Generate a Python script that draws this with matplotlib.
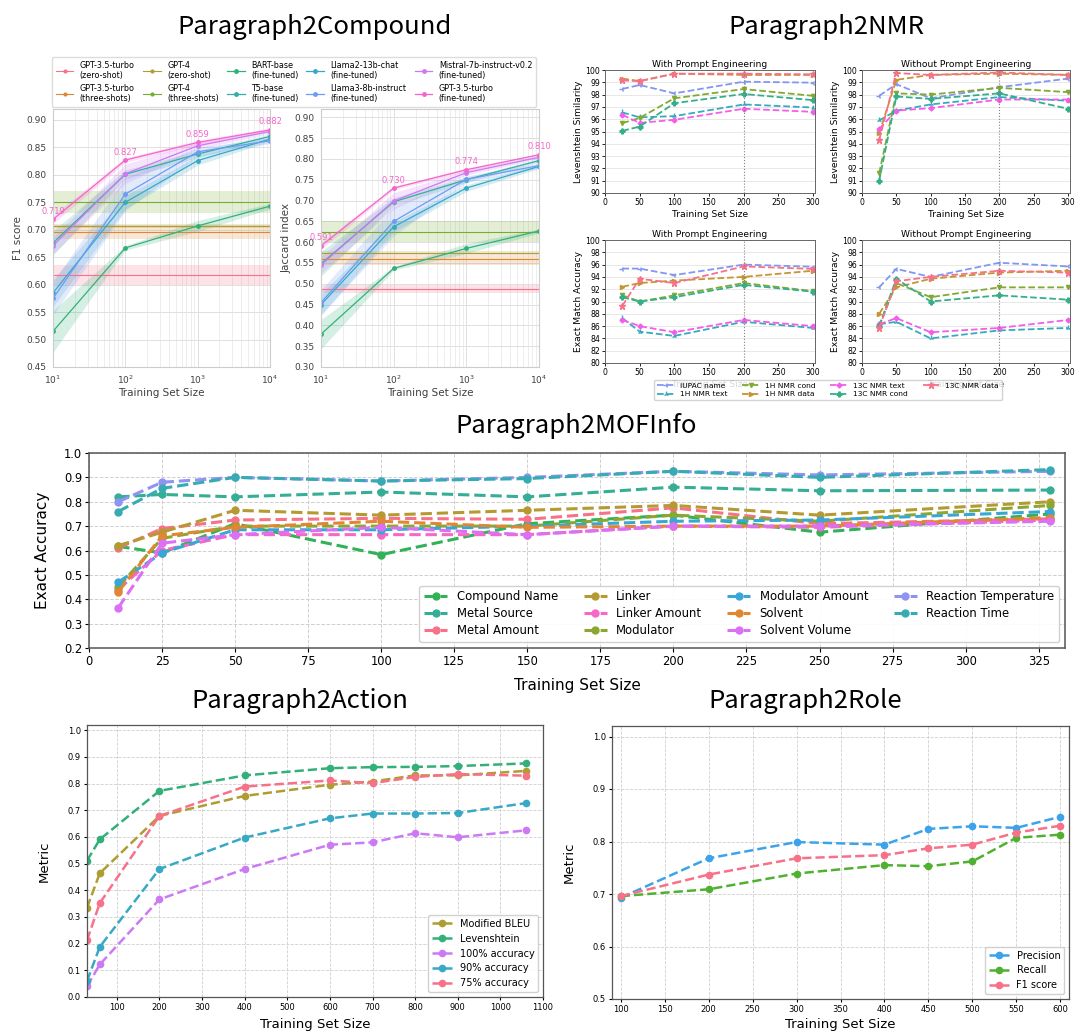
import numpy as np
import matplotlib
matplotlib.use("Agg")
import matplotlib.pyplot as plt
import seaborn as sns

W, H = 1075, 1034

# ---------------- Paragraph2Compound ----------------
cmp_sizes = [10, 100, 1000, 10000]
cmp_labels = ["GPT-3.5-turbo\n(zero-shot)", "GPT-3.5-turbo\n(three-shots)",
              "GPT-4\n(zero-shot)", "GPT-4\n(three-shots)",
              "BART-base\n(fine-tuned)", "T5-base\n(fine-tuned)",
              "Llama2-13b-chat\n(fine-tuned)", "Llama3-8b-instruct\n(fine-tuned)",
              "Mistral-7b-instruct-v0.2\n(fine-tuned)", "GPT-3.5-turbo\n(fine-tuned)"]
# prompt-only baselines (no training): mean, std
f1_base_mean = [0.617, 0.696, 0.707, 0.750]
f1_base_std = [0.018, 0.013, 0.004, 0.020]
jac_base_mean = [0.488, 0.560, 0.575, 0.625]
jac_base_std = [0.010, 0.015, 0.004, 0.025]
# fine-tuned models
f1_ft = [[0.515, 0.667, 0.707, 0.743],
         [0.676, 0.801, 0.838, 0.870],
         [0.585, 0.750, 0.826, 0.865],
         [0.575, 0.765, 0.842, 0.862],
         [0.671, 0.802, 0.853, 0.879],
         [0.719, 0.827, 0.859, 0.882]]
f1_ft_std = [[0.038, 0.004, 0.010, 0.005],
             [0.022, 0.008, 0.006, 0.004],
             [0.025, 0.012, 0.008, 0.004],
             [0.030, 0.030, 0.008, 0.005],
             [0.015, 0.018, 0.006, 0.004],
             [0.008, 0.004, 0.004, 0.003]]
jac_ft = [[0.379, 0.537, 0.585, 0.627],
          [0.548, 0.697, 0.750, 0.796],
          [0.450, 0.637, 0.730, 0.782],
          [0.455, 0.650, 0.751, 0.784],
          [0.545, 0.699, 0.767, 0.804],
          [0.591, 0.730, 0.774, 0.810]]
jac_ft_std = [[0.035, 0.004, 0.012, 0.005],
              [0.030, 0.010, 0.006, 0.004],
              [0.025, 0.012, 0.008, 0.005],
              [0.030, 0.035, 0.008, 0.006],
              [0.020, 0.020, 0.006, 0.004],
              [0.008, 0.004, 0.004, 0.003]]

# ---------------- Paragraph2NMR ----------------
nmr_sizes = [25, 50, 100, 200, 300]
nmr_names = ["IUPAC name", "1H NMR text", "1H NMR cond", "1H NMR data",
             "13C NMR text", "13C NMR cond", "13C NMR data"]
lev_with = [[98.46, 98.78, 98.10, 99.05, 98.97],
            [96.55, 96.15, 96.25, 97.20, 96.95],
            [95.68, 96.10, 97.70, 98.45, 97.90],
            [99.30, 99.10, 99.70, 99.60, 99.60],
            [96.35, 95.70, 95.95, 96.85, 96.60],
            [95.05, 95.40, 97.30, 98.05, 97.55],
            [99.15, 99.10, 99.70, 99.70, 99.65]]
lev_without = [[97.90, 98.85, 97.70, 98.60, 99.30],
               [95.90, 96.70, 97.20, 97.80, 97.50],
               [91.60, 98.10, 98.00, 98.55, 98.20],
               [94.85, 99.20, 99.60, 99.70, 99.60],
               [95.20, 96.70, 96.90, 97.60, 97.60],
               [91.00, 97.85, 97.65, 98.10, 96.85],
               [94.30, 99.75, 99.60, 99.80, 99.60]]
em_with = [[95.35, 95.35, 94.30, 96.00, 95.65],
           [87.30, 85.10, 84.40, 86.70, 85.70],
           [91.00, 90.00, 91.00, 93.00, 91.70],
           [92.40, 93.00, 93.40, 94.00, 95.00],
           [87.00, 86.00, 85.00, 87.00, 86.00],
           [90.70, 90.00, 90.70, 92.70, 91.60],
           [89.30, 93.70, 93.00, 95.70, 95.30]]
em_without = [[92.30, 95.30, 94.00, 96.30, 95.70],
              [86.30, 86.70, 84.00, 85.30, 85.70],
              [86.00, 93.00, 90.70, 92.30, 92.30],
              [88.00, 92.30, 93.70, 94.70, 95.00],
              [86.30, 87.30, 85.00, 85.70, 87.00],
              [86.00, 93.70, 90.00, 91.00, 90.30],
              [85.70, 93.30, 94.00, 95.00, 94.70]]

# ---------------- Paragraph2MOFInfo ----------------
mof_sizes = [10, 25, 50, 100, 150, 200, 250, 329]
mof_names = ["Compound Name", "Metal Source", "Metal Amount", "Linker", "Linker Amount",
             "Modulator", "Modulator Amount", "Solvent", "Solvent Volume",
             "Reaction Temperature", "Reaction Time"]
mof_acc = [[0.617, 0.590, 0.710, 0.583, 0.710, 0.745, 0.675, 0.750],
           [0.820, 0.830, 0.820, 0.840, 0.820, 0.860, 0.845, 0.848],
           [0.610, 0.690, 0.725, 0.732, 0.728, 0.775, 0.710, 0.730],
           [0.620, 0.675, 0.765, 0.745, 0.765, 0.785, 0.745, 0.800],
           [0.440, 0.600, 0.665, 0.665, 0.665, 0.700, 0.695, 0.725],
           [0.450, 0.650, 0.700, 0.700, 0.700, 0.745, 0.720, 0.785],
           [0.470, 0.590, 0.685, 0.685, 0.700, 0.720, 0.725, 0.760],
           [0.430, 0.660, 0.695, 0.720, 0.695, 0.700, 0.700, 0.735],
           [0.365, 0.630, 0.665, 0.695, 0.665, 0.700, 0.700, 0.720],
           [0.800, 0.880, 0.900, 0.885, 0.900, 0.925, 0.910, 0.925],
           [0.760, 0.855, 0.900, 0.885, 0.895, 0.925, 0.900, 0.932]]
mof_color_idx = [4, 5, 0, 2, 10, 3, 7, 1, 9, 8, 6]

# ---------------- Paragraph2Action ----------------
act_sizes = [30, 60, 200, 400, 600, 700, 800, 900, 1060]
act_names = ["Modified BLEU", "Levenshtein", "100% accuracy", "90% accuracy", "75% accuracy"]
act_vals = [[0.335, 0.464, 0.679, 0.754, 0.796, 0.808, 0.831, 0.831, 0.848],
            [0.511, 0.591, 0.773, 0.831, 0.858, 0.862, 0.863, 0.866, 0.876],
            [0.040, 0.122, 0.366, 0.480, 0.571, 0.580, 0.614, 0.599, 0.625],
            [0.060, 0.188, 0.480, 0.598, 0.670, 0.688, 0.688, 0.690, 0.727],
            [0.213, 0.352, 0.679, 0.789, 0.812, 0.802, 0.825, 0.836, 0.830]]
act_color_idx = [1, 2, 4, 3, 0]

# ---------------- Paragraph2Role ----------------
role_sizes = [100, 200, 300, 400, 450, 500, 550, 600]
role_names = ["Precision", "Recall", "F1 score"]
role_vals = [[0.693, 0.768, 0.799, 0.794, 0.824, 0.829, 0.826, 0.847],
             [0.696, 0.709, 0.739, 0.755, 0.753, 0.762, 0.807, 0.813],
             [0.696, 0.737, 0.768, 0.774, 0.787, 0.794, 0.817, 0.830]]
role_color_idx = [2, 1, 0]


def rect(l, t, r, b):
    return [l / W, 1 - b / H, (r - l) / W, (b - t) / H]


fig = plt.figure(figsize=(W / 100, H / 100), dpi=100)
title_font = dict(fontsize=18.5, family=["Noto Sans CJK SC", "DejaVu Sans"], ha="center", va="center")
fig.text(315 / W, 1 - 27 / H, "Paragraph2Compound", **title_font)
fig.text(826 / W, 1 - 27 / H, "Paragraph2NMR", **title_font)
fig.text(576 / W, 1 - 426 / H, "Paragraph2MOFInfo", **title_font)
fig.text(300 / W, 1 - 701 / H, "Paragraph2Action", **title_font)
fig.text(805 / W, 1 - 701 / H, "Paragraph2Role", **title_font)

# ---- compound panel (seaborn look)
pal10 = sns.color_palette("husl", 10)
with sns.axes_style("whitegrid"):
    ax_f1 = fig.add_axes(rect(53, 109, 270, 367))
    ax_jac = fig.add_axes(rect(321, 109, 539, 367))
handles = []
for ax, bm, bs, ft, fs, ylab, ylim in [
        (ax_f1, f1_base_mean, f1_base_std, f1_ft, f1_ft_std, "F1 score", (0.45, 0.92)),
        (ax_jac, jac_base_mean, jac_base_std, jac_ft, jac_ft_std, "Jaccard index", (0.30, 0.92))]:
    hs = []
    for i in range(4):
        m, s = bm[i], bs[i]
        h, = ax.plot([10, 10000], [m, m], color=pal10[i], lw=0.8, marker="o", ms=2, markevery=[])
        ax.fill_between([10, 10000], m - s, m + s, color=pal10[i], alpha=0.2, lw=0)
        hs.append(h)
    for j in range(6):
        c = pal10[4 + j]
        y = np.array(ft[j])
        s = np.array(fs[j])
        h, = ax.plot(cmp_sizes, y, color=c, lw=0.9, marker="o", ms=2.5)
        ax.fill_between(cmp_sizes, y - s, y + s, color=c, alpha=0.2, lw=0)
        hs.append(h)
    for xv, yv in zip(cmp_sizes, ft[5]):
        ax.annotate(f"{yv:.3f}", (xv, yv), xytext=(0, 2.5), textcoords="offset points",
                    ha="center", va="bottom", color=pal10[9], fontsize=6)
    ax.set_xscale("log")
    ax.set_xlim(10, 10000)
    ax.set_ylim(*ylim)
    ax.set_yticks(np.arange(ylim[0], 0.901, 0.05))
    ax.grid(which="minor", axis="x", color=".9", lw=0.5)
    ax.grid(which="major", color=".88", lw=0.7)
    ax.tick_params(labelsize=6.5, colors=".25", pad=1.5)
    ax.set_xlabel("Training Set Size", fontsize=7.5, color=".25", labelpad=1)
    ax.set_ylabel(ylab, fontsize=7.5, color=".25", labelpad=2)
    for sp in ax.spines.values():
        sp.set_color(".8")
    handles = hs
fig.legend(handles, cmp_labels, ncol=5, fontsize=5.8, loc="center",
           bbox_to_anchor=(294 / W, 1 - 82 / H), frameon=True, framealpha=0.9,
           edgecolor=".85", handlelength=2.2, columnspacing=1.0, labelspacing=0.4,
           borderpad=0.5)

# ---- NMR panel
pal7 = sns.color_palette("husl", 7)
nmr_color_idx = [5, 4, 2, 1, 6, 3, 0]
nmr_markers = ["3", "2", "v", ">", "D", "P", "*"]
nmr_ms = [4, 4, 3, 3, 2.5, 3.5, 4.5]
nmr_panels = [
    (rect(605, 70, 815, 193), lev_with, "With Prompt Engineering", "Levenshtein Similarity", (90, 100), 1),
    (rect(862, 70, 1070, 193), lev_without, "Without Prompt Engineering", "Levenshtein Similarity", (90, 100), 1),
    (rect(605, 240, 815, 363), em_with, "With Prompt Engineering", "Exact Match Accuracy", (80, 100), 2),
    (rect(862, 240, 1070, 363), em_without, "Without Prompt Engineering", "Exact Match Accuracy", (80, 100), 2),
]
nmr_handles = []
for pos, data, title, ylab, ylim, step in nmr_panels:
    ax = fig.add_axes(pos)
    nmr_handles = []
    for k, name in enumerate(nmr_names):
        h, = ax.plot(nmr_sizes, data[k], ls="--", lw=1.3, color=pal7[nmr_color_idx[k]],
                     marker=nmr_markers[k], ms=nmr_ms[k], label=name)
        nmr_handles.append(h)
    ax.axvline(200, color="gray", ls=":", lw=0.8)
    ax.set_xlim(0, 303)
    ax.set_ylim(*ylim)
    ax.set_yticks(np.arange(ylim[0], ylim[1] + 0.1, step))
    ax.set_xticks([0, 50, 100, 150, 200, 250, 300])
    ax.grid(axis="y", color="#e4e4e4", lw=0.6)
    ax.set_axisbelow(True)
    ax.tick_params(labelsize=5.6, length=2, pad=1.5, width=0.6)
    ax.set_title(title, fontsize=6.6, pad=2.5)
    ax.set_ylabel(ylab, fontsize=6.6, labelpad=2)
    ax.set_xlabel("Training Set Size", fontsize=6.6, labelpad=2)
    for sp in ax.spines.values():
        sp.set_color("#666")
        sp.set_linewidth(0.7)
fig.legend(nmr_handles, nmr_names, ncol=4, fontsize=5.4, loc="center",
           bbox_to_anchor=(828 / W, 1 - 390 / H), framealpha=0.85, edgecolor="#ccc",
           handlelength=2.2, columnspacing=2.0, labelspacing=0.3, borderpad=0.4)

# ---- MOFInfo panel
pal11 = sns.color_palette("husl", 11)
ax = fig.add_axes(rect(89, 453, 1065, 648))
for k, name in enumerate(mof_names):
    ax.plot(mof_sizes, mof_acc[k], ls="--", lw=2.2, marker="o", ms=5,
            color=pal11[mof_color_idx[k]], label=name)
ax.set_xlim(0, 334)
ax.set_ylim(0.2, 1.0)
ax.set_xticks(np.arange(0, 326, 25))
ax.set_yticks(np.arange(0.2, 1.01, 0.1))
ax.grid(True, ls="--", color="#cfcfcf", lw=0.7)
ax.tick_params(labelsize=8.3, length=3, pad=2)
ax.set_xlabel("Training Set Size", fontsize=11, labelpad=7)
ax.set_ylabel("Exact Accuracy", fontsize=11, labelpad=10)
for sp in ax.spines.values():
    sp.set_color("#555")
    sp.set_linewidth(1.1)
ax.legend(ncol=4, fontsize=8.4, loc="lower right", framealpha=0.9, edgecolor="#ccc",
          handlelength=2.0, columnspacing=2.2, labelspacing=0.35)

# ---- Action panel
pal5 = sns.color_palette("husl", 5)
ax = fig.add_axes(rect(87, 725, 543, 997))
for k, name in enumerate(act_names):
    ax.plot(act_sizes, act_vals[k], ls="--", lw=1.8, marker="o", ms=4.5,
            color=pal5[act_color_idx[k]], label=name)
ax.set_xlim(30, 1100)
ax.set_ylim(0, 1.02)
ax.set_xticks(np.arange(100, 1101, 100))
ax.set_yticks(np.arange(0, 1.01, 0.1))
ax.grid(True, ls="--", color="#cfcfcf", lw=0.6)
ax.tick_params(labelsize=6, length=2.5, pad=2)
ax.set_xlabel("Training Set Size", fontsize=9.5, labelpad=4)
ax.set_ylabel("Metric", fontsize=9.5, labelpad=12)
for sp in ax.spines.values():
    sp.set_color("#555")
    sp.set_linewidth(0.9)
ax.legend(fontsize=7, loc="lower right", framealpha=0.9, edgecolor="#ccc",
          handlelength=2.0, labelspacing=0.5)

# ---- Role panel
pal3 = sns.color_palette("husl", 3)
ax = fig.add_axes(rect(612, 726, 1069, 999))
for k, name in enumerate(role_names):
    ax.plot(role_sizes, role_vals[k], ls="--", lw=1.8, marker="o", ms=4.5,
            color=pal3[role_color_idx[k]], label=name)
ax.set_xlim(90, 610)
ax.set_ylim(0.5, 1.02)
ax.set_xticks(np.arange(100, 601, 50))
ax.set_yticks(np.arange(0.5, 1.01, 0.1))
ax.grid(True, ls="--", color="#cfcfcf", lw=0.6)
ax.tick_params(labelsize=6, length=2.5, pad=2)
ax.set_xlabel("Training Set Size", fontsize=9.5, labelpad=3)
ax.set_ylabel("Metric", fontsize=9.5, labelpad=12)
for sp in ax.spines.values():
    sp.set_color("#555")
    sp.set_linewidth(0.9)
ax.legend(fontsize=7, loc="lower right", framealpha=0.9, edgecolor="#ccc",
          handlelength=2.0, labelspacing=0.5)

fig.savefig("out.png", dpi=100)
